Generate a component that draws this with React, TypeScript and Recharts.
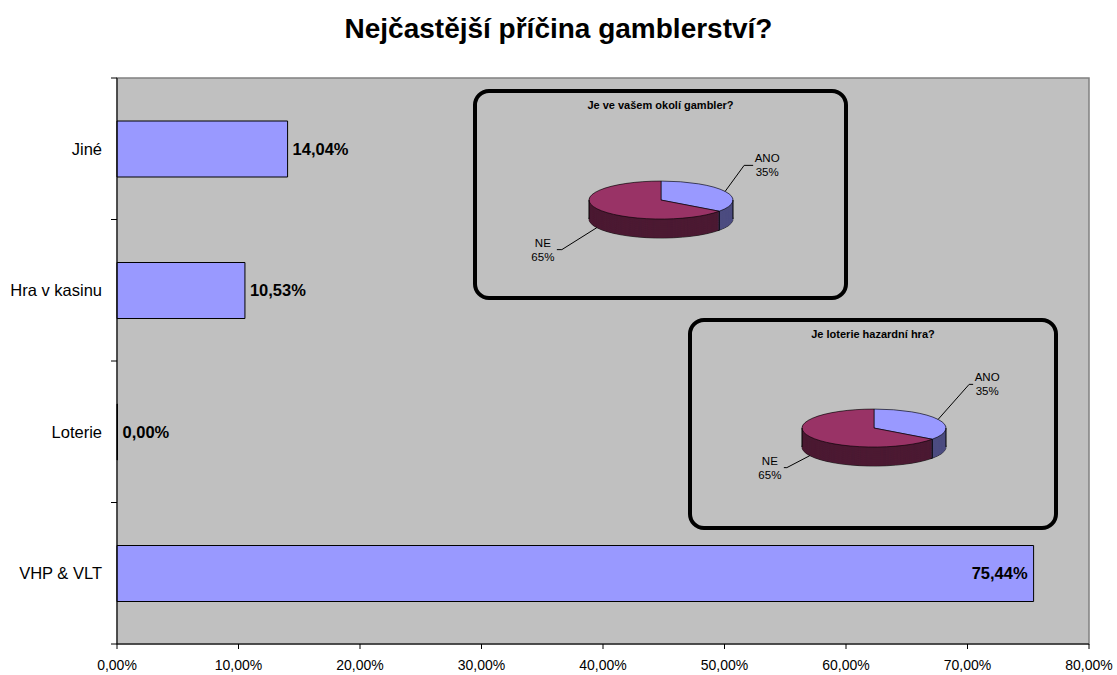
import { BarChart, Bar, XAxis, YAxis, CartesianGrid, ReferenceArea, LabelList, PieChart, Pie, Cell } from "recharts"

// main bar chart
const categories = ["Jiné", "Hra v kasinu", "Loterie", "VHP & VLT"]
const shares = [0.1404, 0.1053, 0.0, 0.7544]
const xTicks = [0, 0.1, 0.2, 0.3, 0.4, 0.5, 0.6, 0.7, 0.8]

// inset pies
const pieLabels = ["ANO", "NE"]
const okoliValues = [35, 65]
const loterieValues = [35, 65]

const FONT = "'Liberation Sans', Arial, sans-serif"
const W = 1117
const H = 675
const PLOT_LEFT = 117
const PLOT_TOP = 78
const PLOT_BOTTOM = 644
const BAND = (PLOT_BOTTOM - PLOT_TOP) / categories.length

const TOP_COLORS = ["#9999FF", "#993366"]
const SIDE_COLORS = ["#4D4D80", "#4C1A33"]

const pct = (v: number) => (v * 100).toFixed(2).replace(".", ",") + "%"

const barData = categories.map((name, i) => ({ name, value: shares[i], label: pct(shares[i]) }))

function CategoryTick(props: any) {
  const { y, payload, index } = props
  const top = y - BAND / 2
  return (
    <g>
      <line x1={PLOT_LEFT - 6} x2={PLOT_LEFT} y1={top} y2={top} stroke="#000" />
      {index === categories.length - 1 && (
        <line x1={PLOT_LEFT - 6} x2={PLOT_LEFT} y1={top + BAND} y2={top + BAND} stroke="#000" />
      )}
      <text x={PLOT_LEFT - 15} y={y} dy="0.35em" textAnchor="end" fontSize={16.5} fontFamily={FONT} fill="#000">
        {payload.value}
      </text>
    </g>
  )
}

function BarValueLabel(props: any) {
  const { x, y, width, height, value } = props
  const w = width || 0
  // long bars carry their value inside the end of the bar
  const inside = w > (W - PLOT_LEFT) / 2
  return (
    <text
      x={inside ? x + w - 6 : x + w + 5}
      y={y + height / 2}
      dy="0.35em"
      textAnchor={inside ? "end" : "start"}
      fontSize={16.5}
      fontWeight="bold"
      fontFamily={FONT}
      fill="#000"
    >
      {value}
    </text>
  )
}

interface InsetProps {
  title: string
  values: number[]
  box: { left: number; top: number; width: number; height: number }
  cx: number
  cy: number
  offsets: { dx: number; dy: number; h: number }[]
}

function PieInset({ title, values, box, cx, cy, offsets }: InsetProps) {
  const rx = 72
  const ry = 19
  const depth = 19
  const s = ry / rx
  const pad = 4
  const cw = 2 * rx + 2 * pad
  const topCy = rx + pad
  const depthPre = depth / s
  const ch = topCy + depthPre + rx + pad
  const data = pieLabels.map((name, i) => ({ name, value: values[i] }))
  const total = values.reduce((a, b) => a + b, 0)

  const layers: number[] = []
  for (let k = depthPre; k > 0; k -= 1.5) layers.push(k)

  // slice angles (same convention as the Pie: start at 12 o'clock, clockwise)
  let start = 90
  const slices = values.map((v) => {
    const span = (v / total) * 360
    const a = { start, end: start - span, mid: start - span / 2 }
    start -= span
    return a
  })
  const rad = (d: number) => (d * Math.PI) / 180

  return (
    <>
      <div
        style={{
          position: "absolute",
          left: box.left,
          top: box.top,
          width: box.width,
          height: box.height,
          boxSizing: "border-box",
          border: "4.5px solid #000",
          borderRadius: 16,
        }}
      />
      <div
        style={{
          position: "absolute",
          left: box.left,
          width: box.width,
          top: box.top + 9,
          textAlign: "center",
          fontFamily: FONT,
          fontWeight: "bold",
          fontSize: 11,
          lineHeight: "14px",
        }}
      >
        {title}
      </div>
      <div
        style={{
          position: "absolute",
          left: cx - cw / 2,
          top: cy - topCy * s,
          width: cw,
          height: ch,
          transform: `scaleY(${s})`,
          transformOrigin: "0 0",
        }}
      >
        <PieChart width={cw} height={ch} margin={{ top: 0, right: 0, bottom: 0, left: 0 }}>
          {layers.map((k, li) => (
            <Pie
              key={k}
              data={data}
              dataKey="value"
              cx={cw / 2}
              cy={topCy + k}
              outerRadius={rx}
              startAngle={90}
              endAngle={-270}
              isAnimationActive={false}
              stroke={li === 0 ? "#000" : "none"}
              strokeWidth={li === 0 ? 1 : 0}
              vectorEffect="non-scaling-stroke"
            >
              {data.map((d, i) => (
                <Cell key={d.name} fill={SIDE_COLORS[i]} />
              ))}
            </Pie>
          ))}
          <Pie
            data={data}
            dataKey="value"
            cx={cw / 2}
            cy={topCy}
            outerRadius={rx}
            startAngle={90}
            endAngle={-270}
            isAnimationActive={false}
            stroke="#000"
            strokeWidth={1}
            vectorEffect="non-scaling-stroke"
          >
            {data.map((d, i) => (
              <Cell key={d.name} fill={TOP_COLORS[i]} />
            ))}
          </Pie>
        </PieChart>
      </div>
      <svg style={{ position: "absolute", left: 0, top: 0, overflow: "visible" }} width={W} height={H}>
        {/* side outline */}
        <line x1={cx - rx} x2={cx - rx} y1={cy} y2={cy + depth} stroke="#000" />
        <line x1={cx + rx} x2={cx + rx} y1={cy} y2={cy + depth} stroke="#000" />
        {slices.map((a, i) => {
          const ex = cx + rx * Math.cos(rad(a.end))
          const ey = cy - ry * Math.sin(rad(a.end))
          return Math.sin(rad(a.end)) < -0.01 ? (
            <line key={"seam" + i} x1={ex} x2={ex} y1={ey} y2={ey + depth} stroke="#000" />
          ) : null
        })}
        {slices.map((a, i) => {
          const c = Math.cos(rad(a.mid))
          const sn = Math.sin(rad(a.mid))
          const px = cx + rx * c
          const py = cy - ry * sn + (sn < 0 ? depth : 0)
          const o = offsets[i]
          const exx = px + o.dx
          const eyy = py + o.dy
          const side = c >= 0 ? 1 : -1
          const hx = exx + side * o.h
          const tx = hx + side * 14
          return (
            <g key={"lbl" + i}>
              <polyline points={`${px},${py} ${exx},${eyy} ${hx},${eyy}`} fill="none" stroke="#000" />
              <text x={tx} y={eyy - 7} dy="0.35em" textAnchor="middle" fontSize={11.5} fontFamily={FONT} fill="#000">
                {pieLabels[i]}
              </text>
              <text x={tx} y={eyy + 7} dy="0.35em" textAnchor="middle" fontSize={11.5} fontFamily={FONT} fill="#000">
                {Math.round((values[i] / total) * 100)}%
              </text>
            </g>
          )
        })}
      </svg>
    </>
  )
}

export default function App() {
  return (
    <div style={{ position: "absolute", left: 0, top: 0, width: W, height: H, background: "#fff", fontFamily: FONT }}>
      <div
        style={{
          position: "absolute",
          left: 0,
          width: W,
          top: 13,
          textAlign: "center",
          fontWeight: "bold",
          fontSize: 28,
          lineHeight: "32px",
        }}
      >
        Nejčastější příčina gamblerství?
      </div>
      <div style={{ position: "absolute", left: 0, top: 0 }}>
        <BarChart
          width={W}
          height={H}
          data={barData}
          layout="vertical"
          margin={{ top: PLOT_TOP, right: 28, bottom: 0, left: 7 }}
          barCategoryGap={0}
        >
          <CartesianGrid horizontal={false} vertical={false} fill="#C0C0C0" />
          <ReferenceArea x1={0} x2={0.8} fill="none" stroke="#808080" strokeWidth={1.5} ifOverflow="visible" />
          <XAxis
            type="number"
            domain={[0, 0.8]}
            ticks={xTicks}
            tickFormatter={pct}
            axisLine={{ stroke: "#000" }}
            tickLine={{ stroke: "#000" }}
            tickSize={5}
            tickMargin={11}
            height={H - PLOT_BOTTOM}
            tick={{ fill: "#000", fontSize: 14, fontFamily: FONT }}
            interval={0}
          />
          <YAxis
            type="category"
            dataKey="name"
            width={PLOT_LEFT - 7}
            axisLine={{ stroke: "#000" }}
            tickLine={false}
            tick={<CategoryTick />}
            interval={0}
          />
          <Bar
            dataKey="value"
            fill="#9999FF"
            stroke="#000"
            strokeWidth={1}
            barSize={56}
            minPointSize={0.5}
            isAnimationActive={false}
          >
            <LabelList dataKey="label" content={<BarValueLabel />} />
          </Bar>
        </BarChart>
      </div>
      <PieInset
        title="Je ve vašem okolí gambler?"
        values={okoliValues}
        box={{ left: 473, top: 89, width: 375, height: 211 }}
        cx={661}
        cy={200}
        offsets={[
          { dx: 19, dy: -26, h: 9 },
          { dx: -35, dy: 22, h: 5 },
        ]}
      />
      <PieInset
        title="Je loterie hazardní hra?"
        values={loterieValues}
        box={{ left: 688, top: 318, width: 370, height: 212 }}
        cx={874}
        cy={428}
        offsets={[
          { dx: 31, dy: -35, h: 4 },
          { dx: -23, dy: 12, h: 3 },
        ]}
      />
    </div>
  )
}
